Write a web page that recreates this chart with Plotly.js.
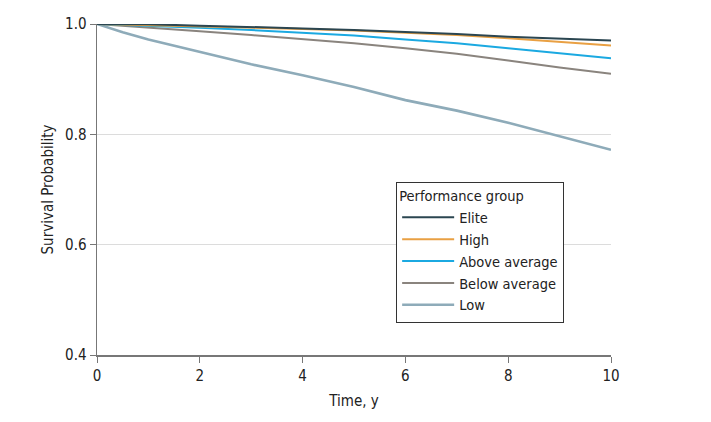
<!DOCTYPE html>
<html>
<head>
<meta charset="utf-8">
<script src="https://cdn.plot.ly/plotly-3.0.1.min.js"></script>
<style>
  html, body { margin: 0; padding: 0; background: #fff; }
  #plot { width: 711px; height: 422px; }
</style>
</head>
<body>
<div id="plot"></div>
<script>
// survival curves
var years = [0, 1, 2, 3, 4, 5, 6, 7, 8, 9, 10]
var yearsLow = [0, 0.5, 1, 2, 3, 4, 5, 6, 7, 8, 9, 10]

var elite = [1.0, 0.9995, 0.997, 0.995, 0.992, 0.989, 0.986, 0.982, 0.977, 0.973, 0.970]
var high = [1.0, 0.998, 0.996, 0.993, 0.991, 0.988, 0.984, 0.980, 0.974, 0.968, 0.961]
var aboveAvg = [1.0, 0.997, 0.993, 0.989, 0.984, 0.979, 0.972, 0.965, 0.956, 0.947, 0.938]
var belowAvg = [1.0, 0.994, 0.987, 0.980, 0.973, 0.965, 0.956, 0.946, 0.934, 0.921, 0.910]
var low = [1.0, 0.985, 0.972, 0.950, 0.927, 0.907, 0.886, 0.862, 0.843, 0.821, 0.797, 0.772]

var groupNames = ['Elite', 'High', 'Above average', 'Below average', 'Low']
var groupColors = ['#2b4651', '#e9a043', '#1ba9e1', '#8a847e', '#8eabb9']

var font = 'DejaVu Sans Condensed, sans-serif'

var series = [elite, high, aboveAvg, belowAvg, low]
var data = []
// draw Low first so Elite ends up on top, legend is reversed back
for (var i = series.length - 1; i >= 0; i--) {
	var xs = (i == 4) ? yearsLow : years
	data.push({
		x: xs,
		y: series[i],
		name: groupNames[i],
		type: 'scatter',
		mode: 'lines',
		line: { color: groupColors[i], width: (i == 4) ? 2.6 : 2 }
	})
}

var layout = {
	width: 711,
	height: 422,
	margin: { l: 97, r: 100, t: 24, b: 67 },
	paper_bgcolor: '#fff',
	plot_bgcolor: '#fff',
	font: { family: font, size: 15, color: '#222' },
	showlegend: true,
	legend: {
		x: 0.582,
		y: 0.524,
		xanchor: 'left',
		yanchor: 'top',
		bordercolor: '#333',
		borderwidth: 1,
		bgcolor: '#fff',
		traceorder: 'reversed',
		font: { family: font, size: 14.5, color: '#222' },
		title: { text: 'Performance group', font: { family: font, size: 14.5, color: '#222' } },
		tracegroupgap: 0,
		itemwidth: 52
	},
	xaxis: {
		range: [0, 10],
		dtick: 2,
		tick0: 0,
		showgrid: false,
		zeroline: false,
		showline: true,
		linecolor: '#777',
		linewidth: 1.5,
		ticks: 'outside',
		ticklen: 6,
		tickcolor: '#777',
		tickfont: { family: font, size: 15, color: '#222' },
		title: { text: 'Time, y', font: { family: font, size: 15, color: '#222' }, standoff: 12 }
	},
	yaxis: {
		range: [0.4, 1.0],
		dtick: 0.2,
		tick0: 0.4,
		tickformat: '.1f',
		showgrid: true,
		gridcolor: '#dcdcdc',
		gridwidth: 1,
		zeroline: false,
		showline: true,
		linecolor: '#777',
		linewidth: 1.5,
		ticks: 'outside',
		ticklen: 6,
		tickcolor: '#777',
		tickfont: { family: font, size: 15, color: '#222' },
		title: { text: 'Survival Probability', font: { family: font, size: 15, color: '#222' }, standoff: 8 }
	}
}

Plotly.newPlot('plot', data, layout, { displayModeBar: false, staticPlot: true })
</script>
</body>
</html>
